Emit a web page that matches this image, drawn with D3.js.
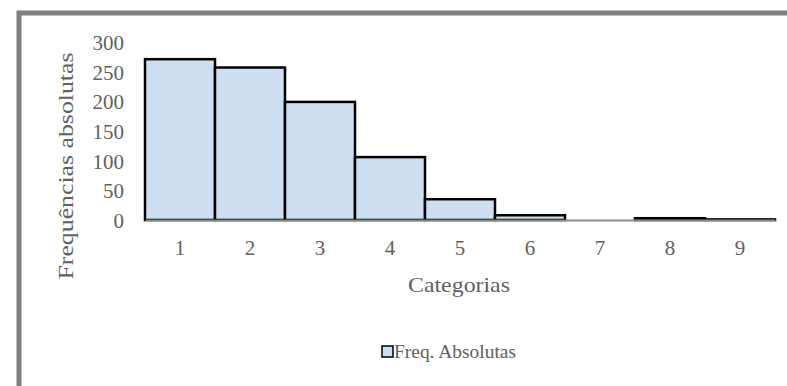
<!DOCTYPE html>
<html><head><meta charset="utf-8">
<script src="https://cdn.jsdelivr.net/npm/d3@7"></script>
<style>html,body{margin:0;padding:0;background:#fff;overflow:hidden}</style>
</head><body>
<svg id="c" width="787" height="386"></svg>
<script>
const categories = ["1","2","3","4","5","6","7","8","9"];
const values = [271, 257, 199, 106, 35, 8, 0, 3, 1];
const yTicks = [0, 50, 100, 150, 200, 250, 300];
const seriesName = "Freq. Absolutas";
const xTitle = "Categorias";
const yTitle = "Frequências absolutas";

const svg = d3.select("#c");
const font = "'Liberation Serif', 'Times New Roman', serif";
const textColor = "#616161";

// outer frame (cropped)
svg.append("rect").attr("x", 19).attr("y", 13).attr("width", 900).attr("height", 500)
  .attr("fill", "none").attr("stroke", "#808080").attr("stroke-width", 5);

const x = d3.scaleBand().domain(categories).range([145, 775]).padding(0);
const y = d3.scaleLinear().domain([0, 300]).range([220, 42]);

const g = svg.append("g");
g.selectAll("rect.bar").data(values).join("rect")
  .attr("class", "bar")
  .attr("x", (d, i) => x(categories[i]))
  .attr("width", x.bandwidth())
  .attr("y", d => y(d))
  .attr("height", d => y(0) - y(d))
  .attr("fill", "#cddff0")
  .attr("stroke", "#000").attr("stroke-width", 2.5);

// x axis
const xAxis = d3.axisBottom(x).tickSize(0).tickPadding(0);
const xa = svg.append("g").attr("transform", "translate(0,220)").call(xAxis);
xa.select(".domain").attr("stroke", "#8c8c8c").attr("stroke-width", 2);
xa.selectAll("text").attr("font-family", font).attr("font-size", 21).attr("fill", textColor)
  .attr("dy", null).attr("y", 35);

// y axis
const yAxis = d3.axisLeft(y).tickValues(yTicks).tickSize(0).tickPadding(0);
const ya = svg.append("g").attr("transform", "translate(124,0)").call(yAxis);
ya.select(".domain").remove();
ya.selectAll("text").attr("font-family", font).attr("font-size", 21).attr("fill", textColor)
  .attr("dy", "0.35em");

// titles
svg.append("text").attr("x", 459).attr("y", 292).attr("text-anchor", "middle")
  .attr("font-family", font).attr("font-size", 22).attr("fill", textColor)
  .attr("textLength", 102).attr("lengthAdjust", "spacingAndGlyphs").text(xTitle);
svg.append("text").attr("transform", "translate(73,166) rotate(-90)").attr("text-anchor", "middle")
  .attr("font-family", font).attr("font-size", 22).attr("fill", textColor)
  .attr("textLength", 227).attr("lengthAdjust", "spacingAndGlyphs").text(yTitle);

// legend
const lg = svg.append("g").attr("transform", "translate(382,346)");
lg.append("rect").attr("width", 11).attr("height", 11).attr("fill", "#cddff0")
  .attr("stroke", "#000").attr("stroke-width", 1.5);
lg.append("text").attr("x", 12).attr("y", 12).attr("font-family", font).attr("font-size", 19)
  .attr("fill", textColor).attr("textLength", 122).attr("lengthAdjust", "spacingAndGlyphs").text(seriesName);
</script>
</body></html>
